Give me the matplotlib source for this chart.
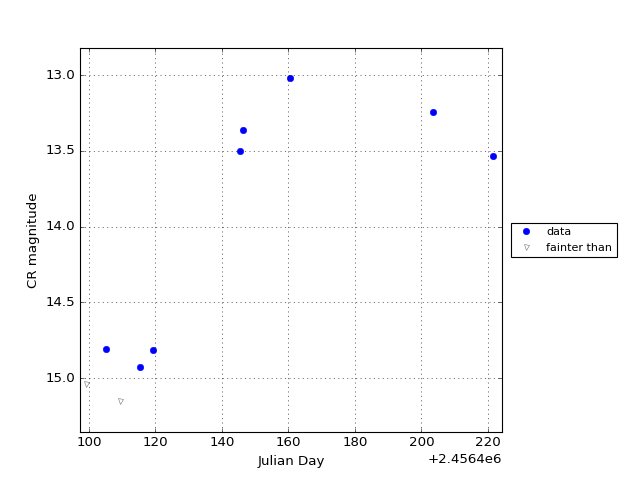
import matplotlib
matplotlib.use("Agg")
import matplotlib.pyplot as plt
import numpy as np

plt.style.use('classic')

offset = 2456400.0
data_jd = [105.25, 115.3, 119.35, 145.3, 146.2, 160.45, 203.5, 221.5]
data_mag = [14.81, 14.93, 14.815, 13.50, 13.36, 13.02, 13.24, 13.535]
lim_jd = [99.1, 109.3]
lim_mag = [15.04, 15.15]

fig = plt.figure(figsize=(8, 6), dpi=80)
ax = fig.add_axes([0.125, 0.1, 0.659, 0.8])
ax.plot(np.array(data_jd) + offset, data_mag, 'o', color='b', mec='b',
        markersize=5.8, label='data')
ax.plot(np.array(lim_jd) + offset, lim_mag, 'v', mfc='none', mec='0.45',
        markersize=4.5, label='fainter than')
ax.set_xlim(offset + 97.3, offset + 224.2)
ax.set_ylim(15.356, 12.82)
ax.set_xticks(offset + np.arange(100, 221, 20))
ax.set_yticks(np.arange(13.0, 15.01, 0.5))
ax.ticklabel_format(axis='x', useOffset=offset)
ax.grid(True)
ax.set_xlabel('Julian Day')
ax.set_ylabel('CR magnitude')
ax.legend(loc='center left', bbox_to_anchor=(1.008, 0.5), numpoints=1,
          fontsize=10, borderaxespad=0.5)
fig.savefig('out.png', dpi=80)
